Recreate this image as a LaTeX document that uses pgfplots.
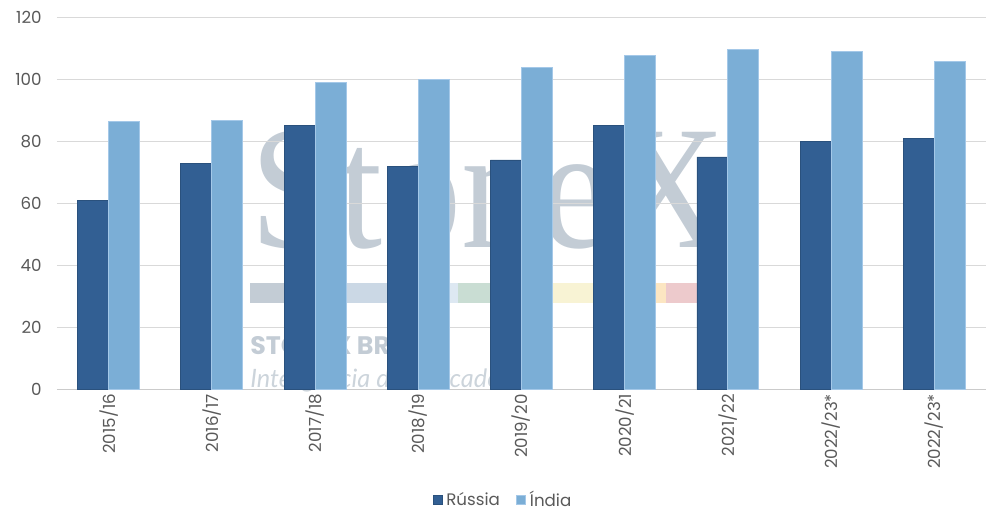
\documentclass[border=0pt]{standalone}
\usepackage{fontspec}
\setmainfont{Poppins}
\newfontfamily\wmserif{Liberation Serif}
\newfontfamily\wmsans{Lato}
\usepackage{pgfplots}
\pgfplotsset{compat=1.18}
\definecolor{rus}{HTML}{325F93}
\definecolor{ind}{HTML}{7BAED6}
\definecolor{indedge}{HTML}{A4C8E8}
\definecolor{txt}{HTML}{595959}
\definecolor{grd}{HTML}{D9D9D9}
\definecolor{wm}{HTML}{C3CCD5}
\definecolor{wmA}{HTML}{CBD8E5}
\definecolor{wmB}{HTML}{DDE8F2}
\definecolor{wmC}{HTML}{C9DDD3}
\definecolor{wmD}{HTML}{F8F3D4}
\definecolor{wmE}{HTML}{FCE6C2}
\definecolor{wmF}{HTML}{EDCACC}
\begin{document}
\begin{tikzpicture}[x=1pt,y=1pt]
% watermark (behind the axis)
\node[anchor=base west,inner sep=0pt,text=wm,font=\wmserif\fontsize{132}{132}\selectfont,xscale=0.9] at (144.75,106.7) {StoneX};
\fill[wm] (144.75,65) rectangle (216,79.8);
\fill[wmA] (216,65) rectangle (292.5,79.8);
\fill[wmB] (292.5,65) rectangle (300.75,79.8);
\fill[wmC] (300.75,65) rectangle (354.75,79.8);
\fill[wmD] (354.75,65) rectangle (448.5,79.8);
\fill[wmE] (448.5,65) rectangle (456.75,79.8);
\fill[wmF] (456.75,65) rectangle (497.25,79.8);
\node[anchor=base west,inner sep=0pt,text=wm,font=\bfseries\fontsize{19}{19}\selectfont] at (144.75,26.5) {STONEX BRASIL};
\node[anchor=base west,inner sep=0pt,text=wm!85!white,font=\wmsans\itshape\fontsize{19}{19}\selectfont] at (144.75,1.05) {Inteligência de Mercado};
\begin{axis}[
  at={(0,0)}, anchor=south west,
  scale only axis,
  width=696.75pt, height=279pt,
  ybar=0pt, bar width=23.25pt,
  xmin=-0.5, xmax=8.5,
  ymin=0, ymax=120,
  ytick={0,20,...,120},
  xtick=data,
  xticklabels={2015/16,2016/17,2017/18,2018/19,2019/20,2020/21,2021/22,2022/23*,2022/23*},
  x tick label style={rotate=90,anchor=east,font=\fontsize{12.5}{12.5}\selectfont,text=txt},
  y tick label style={font=\fontsize{12.5}{12.5}\selectfont,text=txt},
  /pgf/number format/assume math mode=true,
  major tick length=0pt,
  ymajorgrids, grid style={grd,line width=0.9pt},
  axis lines*=left,
  axis line style={draw=none},
  yticklabel style={xshift=-8pt},
  legend style={at={(335.25pt,-82.65pt)}, anchor=center, draw=none, fill=none,
    legend columns=2, font=\fontsize{12.5}{12.5}\selectfont, text=txt,
    /tikz/every odd column/.append style={column sep=0pt},
    /tikz/every even column/.append style={column sep=9pt},
    nodes={inner xsep=3pt}},
  legend image code/.code={\fill[#1] (0pt,-3.4pt) rectangle (6.75pt,3.4pt);},
  legend cell align=left,
]
\draw[grd!85!gray,line width=0.9pt] (axis cs:-0.5,0) -- (axis cs:8.5,0);
\addplot[fill=rus,draw=rus!85!black,line width=0.5pt] coordinates {(0,61) (1,73) (2,85) (3,72) (4,74) (5,85) (6,75) (7,80) (8,81)};
\addplot[fill=ind,draw=indedge,line width=0.75pt] coordinates {(0,86.3) (1,86.8) (2,99) (3,100) (4,103.8) (5,107.7) (6,109.7) (7,109) (8,105.7)};
\legend{Rússia,Índia}
\end{axis}
\pgfresetboundingbox
\useasboundingbox (-42.75,-101.5) rectangle (708.75,292);
\end{tikzpicture}
\end{document}
